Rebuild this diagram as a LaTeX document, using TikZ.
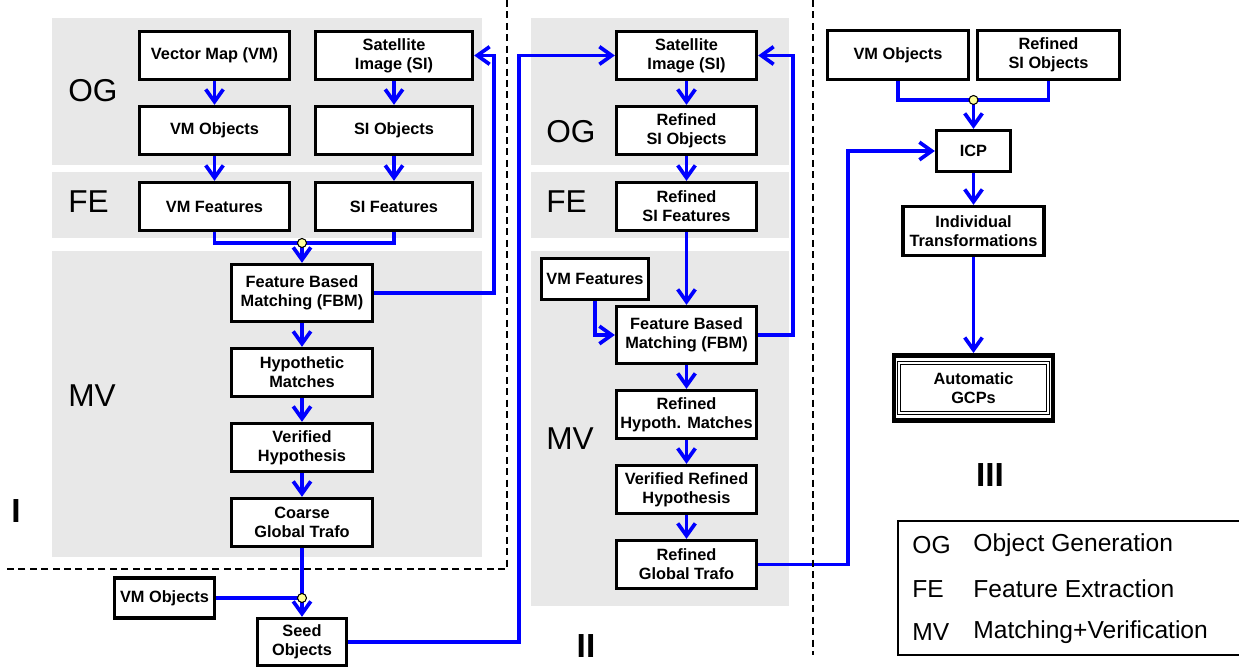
\documentclass[tikz,border=0pt]{standalone}
\usepackage{fontspec}
\setmainfont{Liberation Sans}
\usetikzlibrary{arrows.meta,fit}
\definecolor{panelgray}{HTML}{E8E8E8}
\definecolor{dotyellow}{HTML}{FFFF99}

\begin{document}
\begin{tikzpicture}[x=0.02cm, y=-0.02cm,
    box/.style={draw=black, line width=1.9pt, fill=white, align=center, inner sep=0pt,
        font=\bfseries\fontsize{9.3}{10.8}\selectfont},
    wire/.style={draw=blue, line width=2.1pt},
    arr/.style={wire, -{Straight Barb[length=7pt, width=10pt]}},
    junction/.style={circle, draw=black, line width=0.6pt, fill=dotyellow,
        inner sep=0pt, minimum size=0.18cm},
    stage/.style={anchor=west, inner sep=0pt, font=\fontsize{18}{20}\selectfont},
    roman/.style={inner sep=0pt, font=\bfseries\fontsize{19}{20}\selectfont},
    legend/.style={anchor=west, inner sep=0pt, font=\fontsize{14}{16}\selectfont},
    sep/.style={black, line width=1.1pt, dash pattern=on 4pt off 2.5pt}]

    \useasboundingbox (0,0) rectangle (1239,668);

    % grey panels
    \fill[panelgray] (52,18) rectangle (482,165);
    \fill[panelgray] (52,172) rectangle (482,238);
    \fill[panelgray] (52,251) rectangle (482,557);

    \fill[panelgray] (531,18) rectangle (789,165);
    \fill[panelgray] (531,172) rectangle (789,238);
    \fill[panelgray] (531,251) rectangle (789,606);

    \node[stage] (ogA) at (68,91) {OG};
    \node[stage] (feA) at (68,202) {FE};
    \node[stage] (mvA) at (68,396) {MV};

    \node[stage] (ogB) at (546,132) {OG};
    \node[stage] (feB) at (546,202) {FE};
    \node[stage] (mvB) at (546,439) {MV};

    \node[roman] (romA) at (16,511) {I};
    \node[roman] (romB) at (586,646) {II};
    \node[roman] (romC) at (990,475) {III};

    % stage I
    \node[box, minimum width=3cm, minimum height=0.96cm] (vm) at (214.5,55.5) {Vector Map (VM)};
    \node[box, minimum width=3.14cm, minimum height=0.96cm] (si) at (394,55.5) {Satellite\\Image (SI)};
    \node[box, minimum width=3cm, minimum height=0.96cm] (vmobj) at (214.5,130.5) {VM Objects};
    \node[box, minimum width=3.14cm, minimum height=0.96cm] (siobj) at (394,130.5) {SI Objects};
    \node[box, minimum width=3cm, minimum height=0.96cm] (vmfeat) at (214.5,206.5) {VM Features};
    \node[box, minimum width=3.14cm, minimum height=0.96cm] (sifeat) at (394,206.5) {SI Features};

    \node[box, minimum width=2.82cm, minimum height=1.14cm] (fbm) at (302,293) {Feature Based\\Matching (FBM)};
    \node[box, minimum width=2.82cm, minimum height=0.96cm] (hyp) at (302,372.5) {Hypothetic\\Matches};
    \node[box, minimum width=2.82cm, minimum height=0.96cm] (verhyp) at (302,447.5) {Verified\\Hypothesis};
    \node[box, minimum width=2.82cm, minimum height=0.96cm] (coarse) at (302,522.5) {Coarse\\Global Trafo};

    \node[box, minimum width=2cm, minimum height=0.8cm] (vmobjseed) at (164.5,598) {VM Objects};
    \node[box, minimum width=1.78cm, minimum height=0.94cm] (seed) at (302,642) {Seed\\Objects};

    % stage II
    \node[box, minimum width=2.8cm, minimum height=0.96cm] (si2) at (686.5,55.5) {Satellite\\Image (SI)};
    \node[box, minimum width=2.8cm, minimum height=0.96cm] (rsiobj) at (686.5,130.5) {Refined\\SI Objects};
    \node[box, minimum width=2.8cm, minimum height=0.96cm] (rsifeat) at (686.5,206.5) {Refined\\SI Features};
    \node[box, minimum width=2.14cm, minimum height=0.82cm] (vmfeat2) at (595,279) {VM Features};
    \node[box, minimum width=2.8cm, minimum height=1.14cm] (fbm2) at (686.5,335) {Feature Based\\Matching (FBM)};
    \node[box, minimum width=2.8cm, minimum height=0.96cm] (rhyp) at (686.5,414.5) {Refined\\Hypoth. Matches};
    \node[box, minimum width=2.8cm, minimum height=0.96cm] (vrhyp) at (686.5,489.5) {Verified Refined\\Hypothesis};
    \node[box, minimum width=2.8cm, minimum height=0.96cm] (rtrafo) at (686.5,564.5) {Refined\\Global Trafo};

    % stage III
    \node[box, minimum width=2.82cm, minimum height=0.98cm] (vmobj3) at (898,55) {VM Objects};
    \node[box, minimum width=2.84cm, minimum height=0.98cm] (rsiobj3) at (1048.5,55) {Refined\\SI Objects};
    \node[box, minimum width=1.48cm, minimum height=0.82cm] (icp) at (973.5,151) {ICP};
    \node[box, minimum width=2.82cm, minimum height=0.98cm] (indiv) at (973.5,231) {Individual\\Transformations};
    \node[box, line width=0.6pt, double, double distance=1.2pt,
        minimum width=2.98cm, minimum height=1cm] (gcp) at (973.5,388) {Automatic\\GCPs};
    \node[draw=black, line width=2.8pt, inner xsep=0.09cm, inner ysep=0.14cm, fit=(gcp)] (gcpframe) {};

    % junctions
    \coordinate (jA) at (302,243);
    \coordinate (jB) at (302,598);
    \coordinate (jC) at (973.5,100);

    % connectors stage I
    \draw[arr] (vm) -- (vmobj);
    \draw[arr] (vmobj) -- (vmfeat);
    \draw[arr] (si) -- (siobj);
    \draw[arr] (siobj) -- (sifeat);
    \draw[wire] (vmfeat.south) |- (jA) -| (sifeat.south);
    \draw[arr] (jA) -- (fbm);
    \draw[arr] (fbm.east) -- ++(120,0) |- (si.east);
    \draw[arr] (fbm) -- (hyp);
    \draw[arr] (hyp) -- (verhyp);
    \draw[arr] (verhyp) -- (coarse);
    \draw[arr] (coarse) -- (seed);
    \draw[wire] (vmobjseed) -- (jB);
    \draw[arr] (seed.east) -- ++(171,0) |- (si2.west);

    % connectors stage II
    \draw[arr] (si2) -- (rsiobj);
    \draw[arr] (rsiobj) -- (rsifeat);
    \draw[arr] (rsifeat) -- (fbm2);
    \draw[arr] (vmfeat2.south) |- (fbm2.west);
    \draw[arr] (fbm2.east) -- ++(35,0) |- (si2.east);
    \draw[arr] (fbm2) -- (rhyp);
    \draw[arr] (rhyp) -- (vrhyp);
    \draw[arr] (vrhyp) -- (rtrafo);
    \draw[arr] (rtrafo.east) -- ++(90,0) |- (icp.west);

    % connectors stage III
    \draw[wire] (vmobj3.south) |- (jC) -| (rsiobj3.south);
    \draw[arr] (jC) -- (icp);
    \draw[arr] (icp) -- (indiv);
    \draw[arr] (indiv) -- (gcpframe);

    \node[junction] (dotA) at (jA) {};
    \node[junction] (dotB) at (jB) {};
    \node[junction] (dotC) at (jC) {};

    % separators
    \draw[sep] (507,0) -- (507,569) -- (7,569);
    \draw[sep] (813,0) -- (813,655);

    % legend
    \draw[line width=1.1pt] (1239,521) -- (898,521) -- (898,655) -- (1239,655);
    \node[legend] (abbOG) at (912,545) {OG};
    \node[legend] (txtOG) at (973,545) {Object Generation};
    \node[legend] (abbFE) at (912,589) {FE};
    \node[legend] (txtFE) at (973,589) {Feature Extraction};
    \node[legend] (abbMV) at (912,632) {MV};
    \node[legend] (txtMV) at (973,632) {Matching+Verification};
\end{tikzpicture}
\end{document}
